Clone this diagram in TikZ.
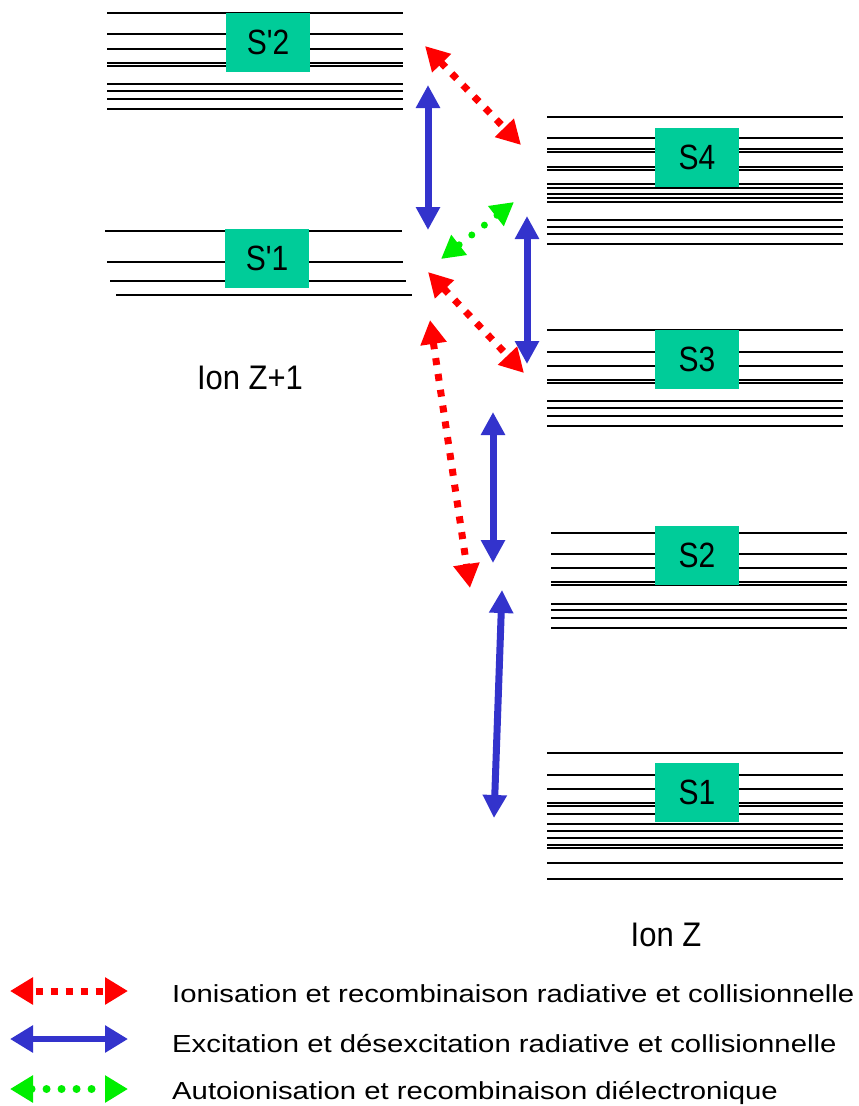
\documentclass[tikz,border=0pt]{standalone}
\usepackage{fontspec}
\setmainfont{Liberation Sans}
\usetikzlibrary{arrows.meta}
\definecolor{boxgreen}{RGB}{0,204,153}
\definecolor{arrred}{RGB}{255,0,0}
\definecolor{arrblue}{RGB}{51,51,204}
\definecolor{arrgreen}{RGB}{0,238,0}
\begin{document}
\begin{tikzpicture}[x=1pt,y=-1pt,
  lvl/.style={black,line width=1.6pt},
  lvlbox/.style={fill=boxgreen,draw=none,inner sep=0pt,minimum width=84pt,minimum height=59pt,font=\fontsize{30}{30}\selectfont},
  redarr/.style={arrred,line width=7pt,dash pattern=on 7pt off 9pt,
    {Triangle[length=24pt,width=25pt]}-{Triangle[length=24pt,width=25pt]}},
  bluearr/.style={arrblue,line width=7pt,
    {Triangle[length=23pt,width=23pt]}-{Triangle[length=23pt,width=23pt]}},
  greenarr/.style={arrgreen,line width=7pt,line cap=round,dash pattern=on 0pt off 16pt,
    {Triangle[length=23pt,width=24pt]}-{Triangle[length=23pt,width=24pt]}},
  legred/.style={arrred,line width=7pt,dash pattern=on 7pt off 8pt,dash phase=-4pt,
    {Triangle[length=23pt,width=26pt]}-{Triangle[length=23pt,width=26pt]}},
  legblue/.style={arrblue,line width=6pt,
    {Triangle[length=23pt,width=26pt]}-{Triangle[length=23pt,width=26pt]}},
  leggreen/.style={arrgreen,line width=8pt,line cap=round,dash pattern=on 0pt off 15pt,
    {Triangle[length=23pt,width=26pt]}-{Triangle[length=23pt,width=26pt]}},
  legtext/.style={anchor=base west,inner sep=0pt,font=\fontsize{29}{29}\selectfont},
  iontext/.style={anchor=base,inner sep=0pt,font=\fontsize{31}{31}\selectfont}
]
\useasboundingbox (0,0) rectangle (859,1106);

% S'2 levels
\foreach \y in {13,34,49,63,66,84,91,99,109}
  \draw[lvl] (107,\y) -- (403,\y);
% S'1 levels
\draw[lvl] (105,231) -- (402,231);
\draw[lvl] (107,262) -- (403,262);
\draw[lvl] (110,281) -- (406,281);
\draw[lvl] (116,295) -- (412,295);
% S4 levels
\foreach \y in {117,138,149,152,167,170,184,188,194,198,202,220,227,234,244}
  \draw[lvl] (547,\y) -- (843,\y);
% S3 levels
\foreach \y in {330,352,366,380,383,401,408,416,426}
  \draw[lvl] (547,\y) -- (843,\y);
% S2 levels
\foreach \y in {533,554,568,582,585,604,610,618,628}
  \draw[lvl] (551,\y) -- (847,\y);
% S1 levels
\foreach \y in {753,775,789,803,806,814,824,831,838,845,848,863,879}
  \draw[lvl] (547,\y) -- (843,\y);

% boxes
\node[lvlbox] (sp2) at (268,42.5) {\scalebox{1}[1.17]{S\textquotesingle 2}};
\node[lvlbox] (sp1) at (267,258.5) {\scalebox{1}[1.17]{S\textquotesingle 1}};
\node[lvlbox] (s4) at (697,157.5) {\scalebox{1}[1.17]{S4}};
\node[lvlbox] (s3) at (697,359.5) {\scalebox{1}[1.17]{S3}};
\node[lvlbox] (s2) at (697,555) {\scalebox{1}[1.17]{S2}};
\node[lvlbox] (s1) at (697,792.5) {\scalebox{1}[1.17]{S1}};

% ion labels
\node[iontext] (ionzp) at (250,389) {\scalebox{1}[1.1]{Ion Z+1}};
\node[iontext] (ionz) at (666,946) {\scalebox{1}[1.1]{Ion Z}};

% arrow endpoints
\coordinate (ra1) at (425,46);  \coordinate (ra2) at (521,145);
\coordinate (ba1) at (428,85);  \coordinate (ba2) at (428,230);
\coordinate (ga1) at (514,202); \coordinate (ga2) at (441,259);
\coordinate (rb1) at (428,272); \coordinate (rb2) at (524,373);
\coordinate (bb1) at (527,216); \coordinate (bb2) at (527,364);
\coordinate (rc1) at (430,320); \coordinate (rc2) at (470,588);
\coordinate (bc1) at (493,412); \coordinate (bc2) at (493,563);
\coordinate (bd1) at (502,590); \coordinate (bd2) at (494,818);

\draw[redarr] (ra1) -- (ra2);
\draw[bluearr] (ba1) -- (ba2);
\draw[greenarr] (ga1) -- (ga2);
\draw[redarr] (rb1) -- (rb2);
\draw[bluearr] (bb1) -- (bb2);
\draw[redarr] (rc1) -- (rc2);
\draw[bluearr] (bc1) -- (bc2);
\draw[bluearr] (bd1) -- (bd2);

% legend
\coordinate (lr1) at (10,991);  \coordinate (lr2) at (128,991);
\coordinate (lb1) at (10,1039); \coordinate (lb2) at (128,1039);
\coordinate (lg1) at (10,1089); \coordinate (lg2) at (128,1089);
\draw[legred] (lr1) -- (lr2);
\draw[legblue] (lb1) -- (lb2);
\draw[leggreen] (lg1) -- (lg2);
\node[legtext] (t1) at (172,1002.7) {\scalebox{1.01}[0.85]{Ionisation et recombinaison radiative et collisionnelle}};
\node[legtext] (t2) at (172,1052) {\scalebox{1.01}[0.85]{Excitation et désexcitation radiative et collisionnelle}};
\node[legtext] (t3) at (172,1099) {\scalebox{1.01}[0.85]{Autoionisation et recombinaison diélectronique}};
\end{tikzpicture}
\end{document}
